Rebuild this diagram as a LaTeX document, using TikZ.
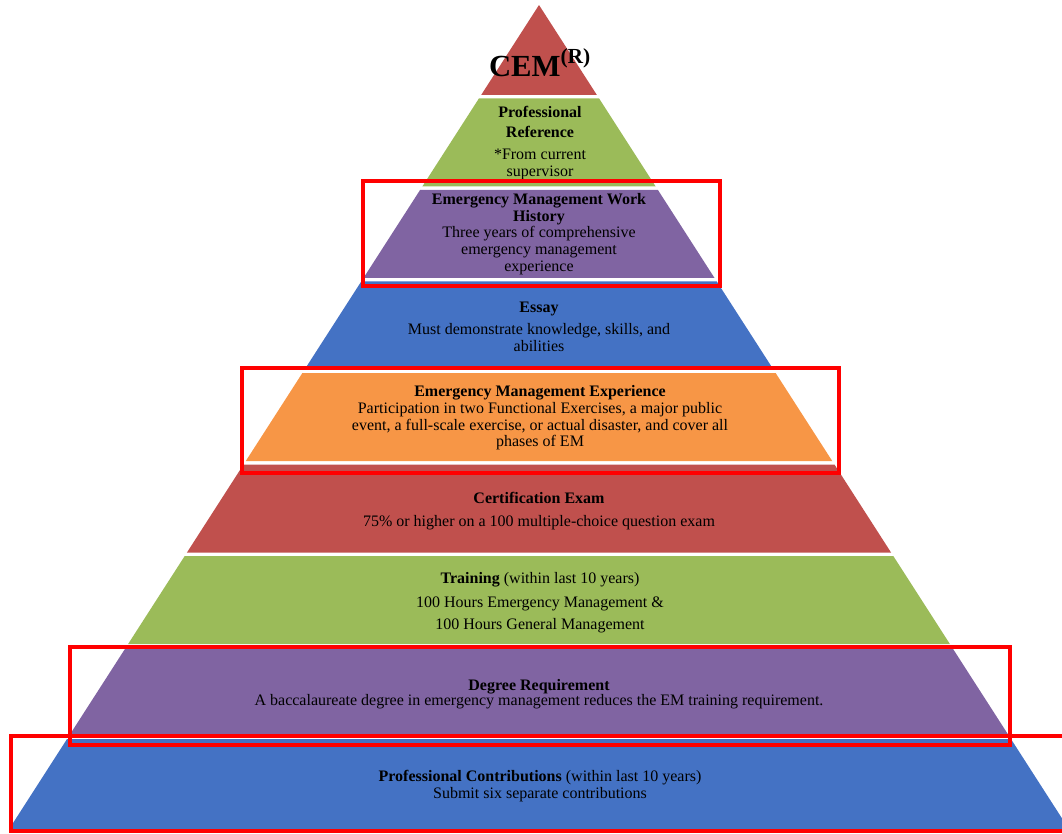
\documentclass[tikz,border=0pt]{standalone}
\usepackage{fontspec}
\setmainfont{Liberation Serif}
\usetikzlibrary{positioning}
\definecolor{pyrred}{HTML}{C0504D}
\definecolor{pyrgreen}{HTML}{9BBB59}
\definecolor{pyrpurple}{HTML}{8064A2}
\definecolor{pyrblue}{HTML}{4472C4}
\definecolor{pyrorange}{HTML}{F79646}

\begin{document}
\begin{tikzpicture}[x=0.75pt,y=-0.75pt,
  txt/.style={align=center,inner sep=0pt,font=\fontsize{12}{12.5}\selectfont},
  hilite/.style={draw=red,line width=3pt}]
\useasboundingbox (0,0) rectangle (1062,833);
\coordinate (apex) at (539,5);

\foreach \col [count=\k from 0] in {pyrred,pyrgreen,pyrpurple,pyrblue,pyrorange,pyrred,pyrgreen,pyrpurple,pyrblue}{
  \pgfmathsetmacro\ya{5+91.56*\k+1.75*(\k>0)}
  \pgfmathsetmacro\yb{5+91.56*(\k+1)-1.75*(\k<8)}
  \pgfmathsetmacro\wa{0.643*(\ya-5)}
  \pgfmathsetmacro\wb{0.643*(\yb-5)}
  \fill[\col] (539-\wa,\ya) -- (539+\wa,\ya) -- (539+\wb,\yb) -- (539-\wb,\yb) -- cycle;
}

\node[txt,anchor=base] (cem) at (540,76) {\fontsize{23}{23}\selectfont\bfseries CEM\textsuperscript{(R)}};
\node[txt] (reference) at (540,143) {\textbf{Professional}\\[2.5pt]\textbf{Reference}\\[4.5pt]*From current\\supervisor};
\node[txt] (history) at (539,234) {\textbf{Emergency Management Work}\\\textbf{History}\\Three years of comprehensive\\emergency management\\experience};
\node[txt] (essay) at (539,327) {\textbf{Essay}\\[4pt]Must demonstrate knowledge, skills, and\\abilities};
\node[txt] (experience) at (540,418) {\textbf{Emergency Management Experience}\\Participation in two Functional Exercises, a major public\\event, a full-scale exercise, or actual disaster, and cover all\\phases of EM};
\node[txt] (exam) at (539,511) {\textbf{Certification Exam}\\[5pt]75\% or higher on a 100 multiple-choice question exam};
\node[txt] (training) at (540,603) {\textbf{Training} (within last 10 years)\\[5pt]100 Hours Emergency Management \&\\[4.5pt]100 Hours General Management};
\node[txt] (degree) at (539,694) {\textbf{Degree Requirement}\\[-1pt]A baccalaureate degree in emergency management reduces the EM training requirement.};
\node[txt] (contrib) at (540,786) {\textbf{Professional Contributions} (within last 10 years)\\Submit six separate contributions};

\draw[hilite] (363,181) rectangle (720,286);
\draw[hilite] (242,368) rectangle (839,473);
\draw[hilite] (70,647) rectangle (1010,745);
\draw[hilite] (11,736) rectangle (1070,831);
\end{tikzpicture}
\end{document}
